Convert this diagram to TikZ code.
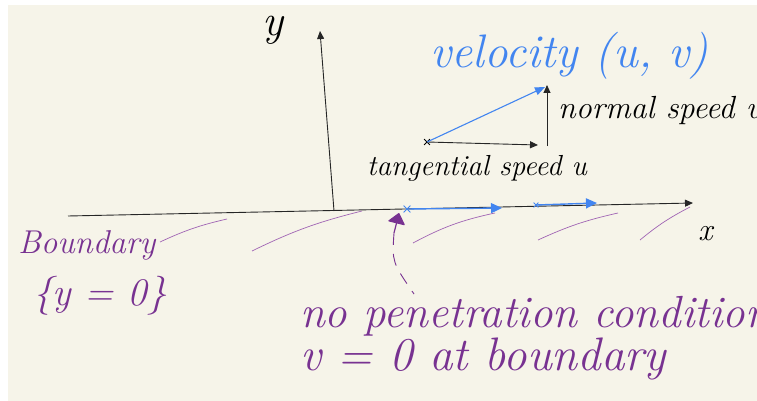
\documentclass[tikz,border=0pt]{standalone}
\usepackage{fontspec}
\usetikzlibrary{arrows.meta,shapes.misc}
\definecolor{paper}{RGB}{246,244,233}
\definecolor{inkblue}{RGB}{66,133,240}
\definecolor{inkpurple}{RGB}{120,50,145}
\definecolor{hatchc}{RGB}{160,100,180}
\newcommand{\fs}[1]{\fontsize{#1}{#1}\selectfont}
\begin{document}
\begin{tikzpicture}[x=1pt,y=-1pt,
  axis/.style={draw=black!85, line width=0.9pt},
  tri/.style={-{Triangle[length=8pt,width=7pt]}},
  hatchline/.style={draw=hatchc, line width=0.7pt},
  bluearrow/.style={draw=inkblue, line width=1.4pt, -{Triangle[length=11pt,width=10pt]}},
  xmark/.style={cross out, draw, minimum size=5pt, inner sep=0pt, line width=0.8pt},
  hand/.style={font=\itshape, inner sep=0pt, anchor=base west}]
\fill[white] (0,0) rectangle (757,401);
\fill[paper] (8,5) rectangle (757,401);
\useasboundingbox (0,0) rectangle (757,401);

% axes
\coordinate (yb) at (334,211);
\coordinate (yt) at (320,31);
\coordinate (xl) at (68,216);
\coordinate (xr) at (693,203);
\draw[axis, tri] (yb) -- (yt);
\draw[axis, tri] (xl) -- (xr);
\node[hand, text=black] (ylab) at (262,36) {\fs{44}y};
\node[hand, text=black] (xlab) at (698,240) {\fs{32}x};

% hatching
\coordinate (h1a) at (160,242); \coordinate (h1b) at (227,219);
\coordinate (h2a) at (252,251); \coordinate (h2b) at (362,211);
\coordinate (h3a) at (413,243); \coordinate (h3b) at (495,213);
\coordinate (h4a) at (538,240); \coordinate (h4b) at (618,213);
\coordinate (h5a) at (640,240); \coordinate (h5b) at (690,207);
\draw[hatchline] (h1a) to[bend left=6] (h1b);
\draw[hatchline] (h2a) to[bend left=6] (h2b);
\draw[hatchline] (h3a) to[bend left=8] (h3b);
\draw[hatchline] (h4a) to[bend left=6] (h4b);
\draw[hatchline] (h5a) to[bend left=6] (h5b);

% blue arrows on boundary
\node[xmark, draw=inkblue, minimum size=6pt] (b1s) at (407,209) {};
\coordinate (b1e) at (502,208);
\node[xmark, draw=inkblue, minimum size=4pt] (b2s) at (536,205) {};
\coordinate (b2e) at (597,203);
\draw[bluearrow] (b1s.center) -- (b1e);
\draw[bluearrow] (b2s.center) -- (b2e);

% purple arrow and dashed pointer
\coordinate (pstem) at (394,233);
\coordinate (ptip) at (399,213);
\coordinate (pend) at (414,294);
\draw[inkpurple, line width=1.2pt, -{Triangle[length=11pt,width=18pt,round]}] (pstem) -- (ptip);
\draw[inkpurple, line width=0.9pt, dash pattern=on 12pt off 9pt] (pstem) .. controls (392,262) .. (pend);

% velocity triangle
\node[xmark, draw=black, minimum size=5pt] (P) at (427,142) {};
\coordinate (Q) at (538,145);
\coordinate (R) at (547,146);
\coordinate (S) at (547,85);
\coordinate (V) at (545,87);
\draw[axis, tri] (P.center) -- (Q);
\draw[axis, tri] (R) -- (S);
\draw[draw=inkblue, line width=1.1pt, -{Triangle[length=10pt,width=8pt]}] (P.center) -- (V);

% labels
\node[hand, text=inkblue] (vel) at (430,68) {\fs{47}velocity (u, v)};
\node[hand, text=black] (nsp) at (558,118) {\fs{32}normal speed v};
\node[hand, text=black] (tsp) at (367,175) {\fs{29}tangential speed u};
\node[hand, text=inkpurple] (bnd) at (18,253) {\fs{33}Boundary};
\node[hand, text=inkpurple] (beq) at (33,305) {\fs{39}\{y = 0\}};
\node[hand, text=inkpurple] (np) at (300,327) {\fs{45}no penetration condition};
\node[hand, text=inkpurple] (vz) at (300,370) {\fs{47}v = 0 at boundary};
\end{tikzpicture}
\end{document}
